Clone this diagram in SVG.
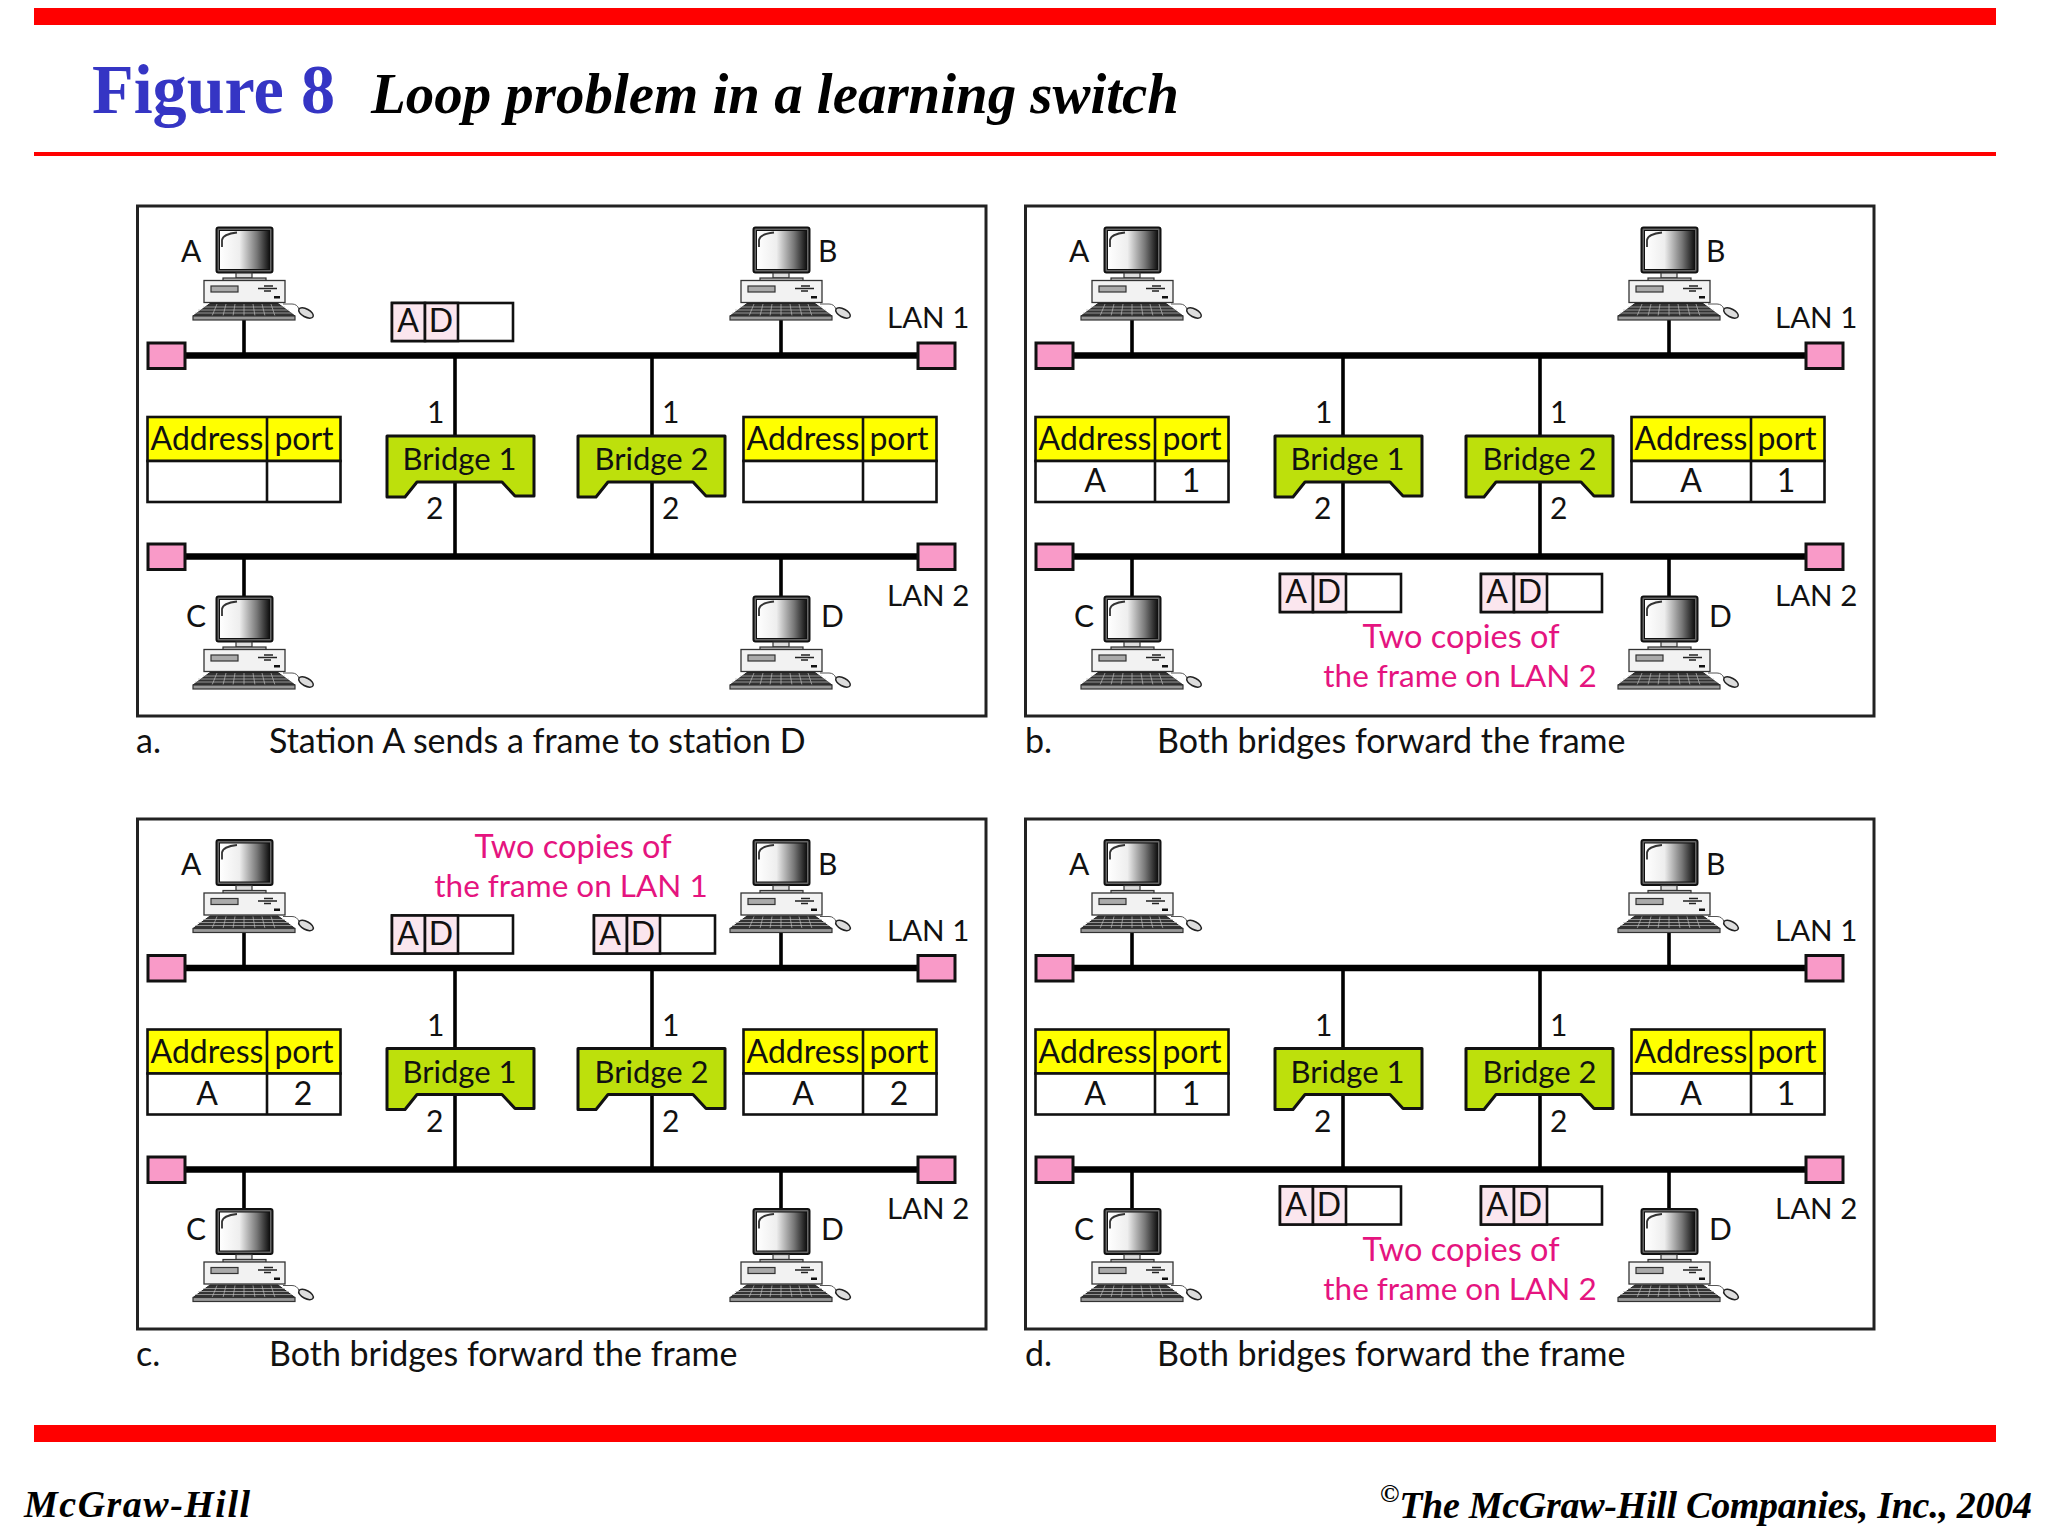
<svg xmlns="http://www.w3.org/2000/svg" width="2048" height="1536" viewBox="0 0 2048 1536">
<style>
text{font-family:"Lato","Liberation Sans",sans-serif;font-size:30px;fill:#111}
.m{text-anchor:middle}
.t{font-size:32px}
.br{font-size:31px}
.cap{font-size:34px}
.lan{font-size:29.500px}
.pink{fill:#e5147f;text-anchor:middle;font-size:31.500px}
.panel{fill:#fff;stroke:#222;stroke-width:3}
.bus{stroke:#000;stroke-width:6.500}
.drop{stroke:#000;stroke-width:3.600}
.term{fill:#f99ac8;stroke:#111;stroke-width:3}
.bridge{fill:#bde00c;stroke:#111;stroke-width:3;stroke-linejoin:round}
.cell{fill:#fff;stroke:#111;stroke-width:2.600}
.head{fill:#ff0;stroke:#111;stroke-width:2.600}
.fp{fill:#fbe6ee;stroke:#111;stroke-width:2.600}
.rule{fill:#f00}
.title{font-family:"Liberation Serif",serif;font-weight:bold}
.gothic{font-family:"Liberation Serif",serif;font-weight:bold;font-style:italic;font-size:38px;fill:#000}
</style>
<defs>
<linearGradient id="screen" x1="0" x2="1" y1="0" y2="0"><stop offset="0" stop-color="#fff"/><stop offset=".4" stop-color="#eee"/><stop offset=".75" stop-color="#777"/><stop offset="1" stop-color="#111"/></linearGradient>
<g id="pc">
<rect x="216.500" y="227.500" width="56" height="45" rx="2" fill="#666" stroke="#111" stroke-width="2"/>
<rect x="219.500" y="230.500" width="50" height="39" fill="url(#screen)" stroke="#111" stroke-width="1"/>
<path d="M222 247V240Q223 234 237 232.500" fill="none" stroke="#333" stroke-width="1.800"/>
<rect x="236" y="273" width="16" height="5" fill="#ddd" stroke="#333" stroke-width="1.200"/>
<rect x="223" y="278" width="43" height="3" fill="#bbb" stroke="#333" stroke-width="1.200"/>
<rect x="204" y="280.500" width="81" height="22" fill="#f2f2f2" stroke="#333" stroke-width="1.300"/>
<rect x="211" y="286" width="27" height="6" fill="#aaa" stroke="#333" stroke-width="1.200"/>
<path d="M258 288.500H277M264 286H273M264 291H271" stroke="#222" stroke-width="1.600" fill="none"/>
<rect x="274" y="296" width="6" height="2.500" fill="#111"/>
<path d="M210 303.500H278L295 316H193Z" fill="#333" stroke="#222" stroke-width="1"/>
<path d="M203 307H285M198 310H289M195 313H292M217 304L212 316M226 304L223 316M235 304L233 316M244 304V316M253 304L255 316M262 304L265 316M271 304L275 316" stroke="#bbb" stroke-width=".7" fill="none"/>
<rect x="193" y="316" width="102" height="4" fill="#999" stroke="#333" stroke-width="1.200"/>
<path d="M283 304H292Q297 304 299 309" fill="none" stroke="#555" stroke-width="1"/>
<ellipse cx="306" cy="313" rx="8" ry="4" transform="rotate(28 306 313)" fill="#ddd" stroke="#222" stroke-width="1.500"/>
</g>
<path id="bridge" d="M387 436H534V496H515L502 482H417L405 497H387Z" class="bridge"/>
<g id="table">
<rect x="147.500" y="417" width="193" height="44" class="head"/>
<rect x="147.500" y="461" width="193" height="41" class="cell"/>
<path d="M267 417V502" stroke="#111" stroke-width="2.600"/>
</g>
<g id="frame">
<rect x="392" y="303" width="121" height="38" fill="#fff" stroke="#111" stroke-width="2.600"/>
<rect x="392" y="303" width="33" height="38" class="fp"/>
<rect x="425" y="303" width="33" height="38" class="fp"/>
</g>
</defs>
<rect width="2048" height="1536" fill="#fff"/>
<g id="header">
<rect class="rule" x="34" y="8" width="1962" height="17"/>
<rect class="rule" x="34" y="152" width="1962" height="4"/>
<text class="title" x="92" y="113" style="font-size:70px;fill:#3535c4" textLength="243" lengthAdjust="spacingAndGlyphs">Figure 8</text>
<text class="title" x="371" y="113" style="font-size:58px;font-style:italic;fill:#000" textLength="808" lengthAdjust="spacingAndGlyphs">Loop problem in a learning switch</text>
</g>

<g id="panel-a">
<rect class="panel" x="137.500" y="206" width="848.500" height="510"/>
<g id="a-connectors"><path class="bus" d="M185 355.500H918M185 556.500H918"/><path class="drop" d="M244 320V355M781 320V355M244 556V596M781 556V596M455 355V556M652 355V556"/></g>
<g id="a-term"><rect class="term" x="148" y="343" width="37" height="25.500"/><rect class="term" x="918" y="343" width="37" height="25.500"/><rect class="term" x="148" y="544" width="37" height="25.500"/><rect class="term" x="918" y="544" width="37" height="25.500"/></g>
<g id="a-pc-A"><use href="#pc"/><text x="181" y="262">A</text></g>
<g id="a-pc-B"><use href="#pc" x="537"/><text x="818" y="262">B</text></g>
<g id="a-pc-C"><use href="#pc" y="369"/><text x="186" y="627">C</text></g>
<g id="a-pc-D"><use href="#pc" x="537" y="369"/><text x="821" y="627">D</text></g>
<text class="lan" x="887" y="328">LAN 1</text><text class="lan" x="887" y="606">LAN 2</text>
<g id="a-bridge1"><use href="#bridge"/><text class="m br" x="459.500" y="470">Bridge 1</text><text x="427" y="423">1</text><text x="426" y="519">2</text></g>
<g id="a-bridge2"><use href="#bridge" x="191"/><text class="m br" x="651.500" y="470">Bridge 2</text><text x="662" y="423">1</text><text x="662" y="519">2</text></g>
<g id="a-table1"><use href="#table"/><text class="m t" x="207" y="450">Address</text><text class="m t" x="304" y="450">port</text></g>
<g id="a-table2"><use href="#table" x="596"/><text class="m t" x="803" y="450">Address</text><text class="m t" x="899" y="450">port</text></g>
<g id="a-frame"><use href="#frame"/><text class="m t" x="408" y="332">A</text><text class="m t" x="441" y="332">D</text></g>
<text class="cap" x="136" y="753">a.</text><text class="cap" x="269" y="753">Station A sends a frame to station D</text>
</g>

<g id="panel-b" transform="translate(888,0)">
<rect class="panel" x="137.500" y="206" width="848.500" height="510"/>
<g id="b-connectors"><path class="bus" d="M185 355.500H918M185 556.500H918"/><path class="drop" d="M244 320V355M781 320V355M244 556V596M781 556V596M455 355V556M652 355V556"/></g>
<g id="b-term"><rect class="term" x="148" y="343" width="37" height="25.500"/><rect class="term" x="918" y="343" width="37" height="25.500"/><rect class="term" x="148" y="544" width="37" height="25.500"/><rect class="term" x="918" y="544" width="37" height="25.500"/></g>
<g id="b-pc-A"><use href="#pc"/><text x="181" y="262">A</text></g>
<g id="b-pc-B"><use href="#pc" x="537"/><text x="818" y="262">B</text></g>
<g id="b-pc-C"><use href="#pc" y="369"/><text x="186" y="627">C</text></g>
<g id="b-pc-D"><use href="#pc" x="537" y="369"/><text x="821" y="627">D</text></g>
<text class="lan" x="887" y="328">LAN 1</text><text class="lan" x="887" y="606">LAN 2</text>
<g id="b-bridge1"><use href="#bridge"/><text class="m br" x="459.500" y="470">Bridge 1</text><text x="427" y="423">1</text><text x="426" y="519">2</text></g>
<g id="b-bridge2"><use href="#bridge" x="191"/><text class="m br" x="651.500" y="470">Bridge 2</text><text x="662" y="423">1</text><text x="662" y="519">2</text></g>
<g id="b-table1"><use href="#table"/><text class="m t" x="207" y="450">Address</text><text class="m t" x="304" y="450">port</text><text class="m t" x="207" y="492">A</text><text class="m t" x="303" y="492">1</text></g>
<g id="b-table2"><use href="#table" x="596"/><text class="m t" x="803" y="450">Address</text><text class="m t" x="899" y="450">port</text><text class="m t" x="803" y="492">A</text><text class="m t" x="898" y="492">1</text></g>
<g id="b-frame1"><use href="#frame" y="271"/><text class="m t" x="408" y="603">A</text><text class="m t" x="441" y="603">D</text></g>
<g id="b-frame2"><use href="#frame" x="201" y="271"/><text class="m t" x="609" y="603">A</text><text class="m t" x="642" y="603">D</text></g>
<text class="pink" x="573" y="648" style="font-size:32.500px">Two copies of</text><text class="pink" x="572" y="687">the frame on LAN 2</text>
<text class="cap" x="137" y="753">b.</text><text class="cap" x="269" y="753">Both bridges forward the frame</text>
</g>

<g id="panel-c" transform="translate(0,612.500)">
<rect class="panel" x="137.500" y="206.500" width="848.500" height="510"/>
<g id="c-connectors"><path class="bus" d="M185 355.500H918M185 557H918"/><path class="drop" d="M244 320V355M781 320V355M244 556V596M781 556V596M455 355V556M652 355V556"/></g>
<g id="c-term"><rect class="term" x="148" y="343" width="37" height="25.500"/><rect class="term" x="918" y="343" width="37" height="25.500"/><rect class="term" x="148" y="544.500" width="37" height="25.500"/><rect class="term" x="918" y="544.500" width="37" height="25.500"/></g>
<g id="c-pc-A"><use href="#pc"/><text x="181" y="262">A</text></g>
<g id="c-pc-B"><use href="#pc" x="537"/><text x="818" y="262">B</text></g>
<g id="c-pc-C"><use href="#pc" y="369"/><text x="186" y="627">C</text></g>
<g id="c-pc-D"><use href="#pc" x="537" y="369"/><text x="821" y="627">D</text></g>
<text class="lan" x="887" y="328">LAN 1</text><text class="lan" x="887" y="606">LAN 2</text>
<g id="c-bridge1"><use href="#bridge"/><text class="m br" x="459.500" y="470">Bridge 1</text><text x="427" y="423">1</text><text x="426" y="519">2</text></g>
<g id="c-bridge2"><use href="#bridge" x="191"/><text class="m br" x="651.500" y="470">Bridge 2</text><text x="662" y="423">1</text><text x="662" y="519">2</text></g>
<g id="c-table1"><use href="#table"/><text class="m t" x="207" y="450">Address</text><text class="m t" x="304" y="450">port</text><text class="m t" x="207" y="492">A</text><text class="m t" x="303" y="492">2</text></g>
<g id="c-table2"><use href="#table" x="596"/><text class="m t" x="803" y="450">Address</text><text class="m t" x="899" y="450">port</text><text class="m t" x="803" y="492">A</text><text class="m t" x="899" y="492">2</text></g>
<g id="c-frame1"><use href="#frame"/><text class="m t" x="408" y="332">A</text><text class="m t" x="441" y="332">D</text></g>
<g id="c-frame2"><use href="#frame" x="202"/><text class="m t" x="610" y="332">A</text><text class="m t" x="643" y="332">D</text></g>
<text class="pink" x="573" y="245" style="font-size:32.500px">Two copies of</text><text class="pink" x="571" y="284">the frame on LAN 1</text>
<text class="cap" x="136" y="753">c.</text><text class="cap" x="269" y="753">Both bridges forward the frame</text>
</g>

<g id="panel-d" transform="translate(888,612.500)">
<rect class="panel" x="137.500" y="206.500" width="848.500" height="510"/>
<g id="d-connectors"><path class="bus" d="M185 355.500H918M185 557H918"/><path class="drop" d="M244 320V355M781 320V355M244 556V596M781 556V596M455 355V556M652 355V556"/></g>
<g id="d-term"><rect class="term" x="148" y="343" width="37" height="25.500"/><rect class="term" x="918" y="343" width="37" height="25.500"/><rect class="term" x="148" y="544.500" width="37" height="25.500"/><rect class="term" x="918" y="544.500" width="37" height="25.500"/></g>
<g id="d-pc-A"><use href="#pc"/><text x="181" y="262">A</text></g>
<g id="d-pc-B"><use href="#pc" x="537"/><text x="818" y="262">B</text></g>
<g id="d-pc-C"><use href="#pc" y="369"/><text x="186" y="627">C</text></g>
<g id="d-pc-D"><use href="#pc" x="537" y="369"/><text x="821" y="627">D</text></g>
<text class="lan" x="887" y="328">LAN 1</text><text class="lan" x="887" y="606">LAN 2</text>
<g id="d-bridge1"><use href="#bridge"/><text class="m br" x="459.500" y="470">Bridge 1</text><text x="427" y="423">1</text><text x="426" y="519">2</text></g>
<g id="d-bridge2"><use href="#bridge" x="191"/><text class="m br" x="651.500" y="470">Bridge 2</text><text x="662" y="423">1</text><text x="662" y="519">2</text></g>
<g id="d-table1"><use href="#table"/><text class="m t" x="207" y="450">Address</text><text class="m t" x="304" y="450">port</text><text class="m t" x="207" y="492">A</text><text class="m t" x="303" y="492">1</text></g>
<g id="d-table2"><use href="#table" x="596"/><text class="m t" x="803" y="450">Address</text><text class="m t" x="899" y="450">port</text><text class="m t" x="803" y="492">A</text><text class="m t" x="898" y="492">1</text></g>
<g id="d-frame1"><use href="#frame" y="271"/><text class="m t" x="408" y="603">A</text><text class="m t" x="441" y="603">D</text></g>
<g id="d-frame2"><use href="#frame" x="201" y="271"/><text class="m t" x="609" y="603">A</text><text class="m t" x="642" y="603">D</text></g>
<text class="pink" x="573" y="648" style="font-size:32.500px">Two copies of</text><text class="pink" x="572" y="687">the frame on LAN 2</text>
<text class="cap" x="137" y="753">d.</text><text class="cap" x="269" y="753">Both bridges forward the frame</text>
</g>

<g id="footer">
<rect class="rule" x="34" y="1425" width="1962" height="17"/>
<text class="gothic" x="24" y="1517" textLength="226">McGraw-Hill</text>
<text class="gothic" x="1380" y="1518" textLength="652"><tspan dy="-16" font-size="26">©</tspan><tspan dy="16">The McGraw-Hill Companies, Inc., 2004</tspan></text>
</g>
</svg>
